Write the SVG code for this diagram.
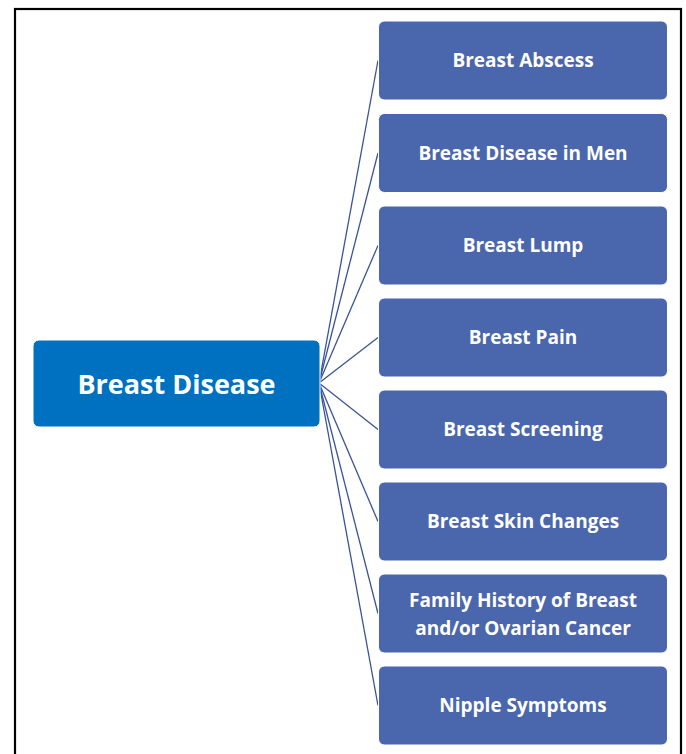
<svg xmlns="http://www.w3.org/2000/svg" width="686" height="754" viewBox="0 0 686 754">
<style>
.child rect{fill:#4A66AC;stroke:#ffffff;stroke-width:1}
.child text{font-family:"Open Sans","Liberation Sans",sans-serif;font-weight:700;font-size:19px;fill:#fff;text-anchor:middle}
.root rect{fill:#0070C0;stroke:#ffffff;stroke-width:1}
.root text{font-family:"Open Sans","Liberation Sans",sans-serif;font-weight:700;font-size:27px;fill:#fff;text-anchor:middle}
#connectors line{stroke:#3A5395;stroke-width:1.3}
</style>
<rect x="0" y="0" width="686" height="754" fill="#ffffff"/>
<rect x="15" y="9" width="666" height="760" fill="none" stroke="#000" stroke-width="2.2"/>
<g id="connectors">
<line x1="319" y1="383" x2="378" y2="60.5"/>
<line x1="319" y1="383" x2="378" y2="153"/>
<line x1="319" y1="383" x2="378" y2="245.5"/>
<line x1="319" y1="383" x2="378" y2="337.5"/>
<line x1="319" y1="383" x2="378" y2="429.5"/>
<line x1="319" y1="383" x2="378" y2="521.5"/>
<line x1="319" y1="383" x2="378" y2="613.5"/>
<line x1="319" y1="383" x2="378" y2="705.5"/>
</g>
<g id="root" class="root"><rect x="33" y="340" width="287" height="87" rx="6"/><text x="176.5" y="393.5">Breast Disease</text></g>
<g id="n1" class="child"><rect x="378.5" y="21" width="289" height="79" rx="6"/><text x="523" y="67">Breast Abscess</text></g>
<g id="n2" class="child"><rect x="378.5" y="113.5" width="289" height="79" rx="6"/><text x="523" y="159.5">Breast Disease in Men</text></g>
<g id="n3" class="child"><rect x="378.5" y="206" width="289" height="79" rx="6"/><text x="523" y="252">Breast Lump</text></g>
<g id="n4" class="child"><rect x="378.5" y="298" width="289" height="79" rx="6"/><text x="523" y="344">Breast Pain</text></g>
<g id="n5" class="child"><rect x="378.5" y="390" width="289" height="79" rx="6"/><text x="523" y="436">Breast Screening</text></g>
<g id="n6" class="child"><rect x="378.5" y="482" width="289" height="79" rx="6"/><text x="523" y="528">Breast Skin Changes</text></g>
<g id="n7" class="child"><rect x="378.5" y="574" width="289" height="79" rx="6"/><text x="523" y="607">Family History of Breast</text><text x="523" y="635">and/or Ovarian Cancer</text></g>
<g id="n8" class="child"><rect x="378.5" y="666" width="289" height="79" rx="6"/><text x="523" y="712">Nipple Symptoms</text></g>
</svg>
